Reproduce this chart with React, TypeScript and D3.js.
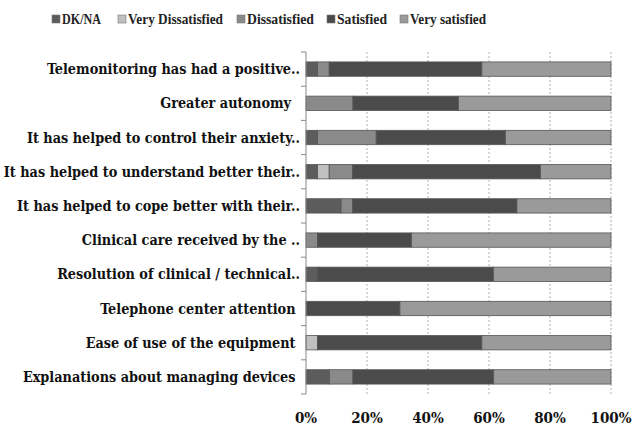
import React from 'react';
import * as d3 from 'd3';

// answer categories, legend order = stack order
const SERIES = ["DK/NA", "Very Dissatisfied", "Dissatisfied", "Satisfied", "Very satisfied"];
const COLORS = ["#5c5c5c", "#c0c0c0", "#8a8a8a", "#4b4b4b", "#9a9a9a"];

// questions, top to bottom (trailing spaces kept as in the source labels)
const QUESTIONS = [
    "Telemonitoring has had a positive..",
    "Greater autonomy  ",
    "It has helped to control their anxiety..",
    "It has helped to understand better their..",
    "It has helped to cope better with their..",
    "Clinical care received by the ..",
    "Resolution of clinical / technical..",
    "Telephone center attention ",
    "Ease of use of the equipment ",
    "Explanations about managing devices ",
];

// percentages per series, same order as QUESTIONS
const DKNA = [3.8, 0, 3.8, 3.8, 11.5, 0, 3.8, 0, 0, 7.7];
const VERY_DISSATISFIED = [0, 0, 0, 3.8, 0, 0, 0, 0, 3.8, 0];
const DISSATISFIED = [3.8, 15.4, 19.2, 7.7, 3.8, 3.8, 0, 0, 0, 7.7];
const SATISFIED = [50.0, 34.6, 42.3, 61.5, 53.8, 30.8, 57.7, 30.8, 53.8, 46.2];
const VERY_SATISFIED = [42.3, 50.0, 34.6, 23.1, 30.8, 65.4, 38.5, 69.2, 42.3, 38.5];

const X_TICKS = [0, 20, 40, 60, 80, 100];

const App = () => {
    const width = 634;
    const height = 429;
    const margin = { top: 52, right: 23, bottom: 35, left: 306 };
    const innerW = width - margin.left - margin.right;
    const innerH = height - margin.top - margin.bottom;

    const rows = QUESTIONS.map((q, i) => ({
        q,
        [SERIES[0]]: DKNA[i],
        [SERIES[1]]: VERY_DISSATISFIED[i],
        [SERIES[2]]: DISSATISFIED[i],
        [SERIES[3]]: SATISFIED[i],
        [SERIES[4]]: VERY_SATISFIED[i],
    }));

    const stacked = d3.stack<any>().keys(SERIES).offset(d3.stackOffsetExpand)(rows);

    const x = d3.scaleLinear().domain([0, 1]).range([0, innerW]);
    const y = d3.scaleBand().domain(QUESTIONS).range([0, innerH]).paddingInner(0.58).paddingOuter(0.29);
    const band = d3.scaleBand().domain(QUESTIONS).range([0, innerH]);

    const font = "'DejaVu Serif Condensed', 'DejaVu Serif', serif";
    const legendFont = "'Liberation Serif', serif";

    // legend entries laid out like the original (left edge, text width)
    const legendX = [52, 118, 237, 327, 400];
    const legendW = [39, 95, 67, 50, 76];

    return (
        <svg width={width} height={height} style={{ position: 'absolute', left: 0, top: 0, background: '#fff' }}>
            {/* legend */}
            <g fontFamily={legendFont} fontSize={15} fontWeight="bold" fill="#222">
                {SERIES.map((s, i) => (
                    <g key={s} transform={`translate(${legendX[i]},15)`}>
                        <rect width={8} height={8} fill={COLORS[i]} stroke="#777" strokeWidth={0.6} />
                        <text x={10} y={9} textLength={legendW[i]} lengthAdjust="spacingAndGlyphs">{s}</text>
                    </g>
                ))}
            </g>

            <g transform={`translate(${margin.left},${margin.top})`}>
                {/* grid */}
                {X_TICKS.slice(1).map(t => (
                    <line key={t} x1={x(t / 100)} x2={x(t / 100)} y1={0} y2={innerH}
                        stroke="#b0b0b0" strokeDasharray="2,2" strokeWidth={1} />
                ))}

                {/* bars */}
                {stacked.map((layer, si) => (
                    <g key={layer.key} fill={COLORS[si]}>
                        {layer.map((d, i) => (
                            d[1] - d[0] > 0 ? (
                                <rect key={i} x={x(d[0])} width={x(d[1]) - x(d[0])}
                                    y={y(QUESTIONS[i])} height={y.bandwidth()}
                                    stroke="#555" strokeWidth={0.8} />
                            ) : null
                        ))}
                    </g>
                ))}

                {/* y axis */}
                <line x1={0} x2={0} y1={0} y2={innerH} stroke="#888" />
                {QUESTIONS.concat([""]).map((q, i) => {
                    const yy = i * band.step();
                    return <line key={i} x1={-5} x2={0} y1={yy} y2={yy} stroke="#888" />;
                })}
                <g fontFamily={font} fontWeight="bold" fontSize={14.3} fill="#111" textAnchor="end">
                    {QUESTIONS.map(q => (
                        <text key={q} x={-6} y={(band(q) ?? 0) + band.bandwidth() / 2 + 5} style={{ whiteSpace: 'pre' }}>{q}</text>
                    ))}
                </g>

                {/* x tick labels */}
                <g fontFamily={font} fontWeight="bold" fontSize={15} fill="#111" textAnchor="middle">
                    {X_TICKS.map(t => (
                        <text key={t} x={x(t / 100)} y={innerH + 29}>{t}%</text>
                    ))}
                </g>
            </g>
        </svg>
    );
};

export default App;
